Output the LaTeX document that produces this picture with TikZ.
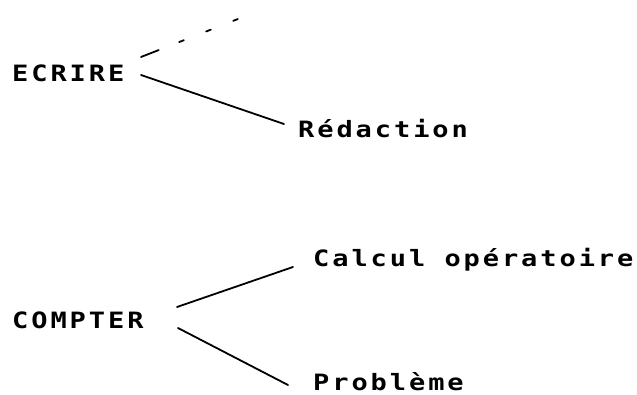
\documentclass[tikz,border=0pt]{standalone}
\usepackage{fontspec}
\newfontfamily\dotfont[LetterSpace=13,FakeStretch=1.2,BoldFont={DejaVu Sans Mono Bold},BoldFeatures={FakeStretch=1.2,LetterSpace=13}]{DejaVu Sans Mono}
\begin{document}
\begin{tikzpicture}[x=1pt,y=-1pt,
  lbl/.style={anchor=west,inner sep=0pt,font=\dotfont\bfseries\fontsize{22.5}{22.5}\selectfont},
  link/.style={line width=1.8pt,line cap=round}]
\useasboundingbox (0,0) rectangle (637,395);
\node[lbl] (ecrire) at (12,73) {ECRIRE};
\node[lbl] (redac) at (298,129) {Rédaction};
\node[lbl] (compter) at (12,320) {COMPTER};
\node[lbl] (calcul) at (313,260) {Calcul opératoire};
\node[lbl] (prob) at (313,382) {Problème};
\coordinate (e1) at (141,57);
\coordinate (e2) at (141,75);
\coordinate (dend) at (238,19);
\coordinate (r1) at (284,124);
\coordinate (c1) at (177,307);
\coordinate (c2) at (178,328);
\coordinate (k1) at (293,267);
\coordinate (p1) at (288,385);
\draw[link,dash pattern=on 19pt off 22pt on 5pt off 24pt on 5pt off 24pt on 5pt off 40pt] (e1) -- (dend);
\draw[link] (e2) -- (r1);
\draw[link] (c1) -- (k1);
\draw[link] (c2) -- (p1);
\end{tikzpicture}
\end{document}
